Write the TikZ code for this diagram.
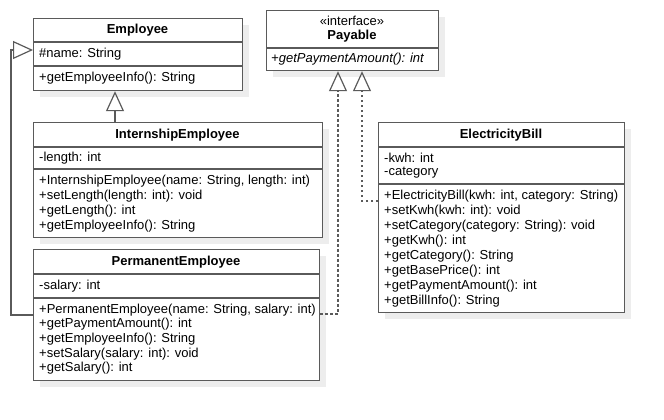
\documentclass[tikz,border=0pt]{standalone}
\usepackage{fontspec}
\setmainfont{Liberation Sans}
\usetikzlibrary{arrows.meta}
\definecolor{edge}{HTML}{5A5A5A}
\definecolor{shade}{HTML}{EDEDED}
\tikzset{
  cls/.style={draw=edge, line width=1.2pt, fill=white, anchor=north west, inner sep=0pt, rectangle},
  shadowbox/.style={fill=shade, draw=none},
  sep/.style={draw=edge, line width=1.2pt},
  txt/.style={anchor=west, inner sep=0pt, font=\fontsize{13}{15}\selectfont},
  ttl/.style={anchor=center, inner sep=0pt, font=\fontsize{13}{15}\selectfont\bfseries},
  gen/.style={draw=edge, line width=1.2pt, -{Triangle[open, length=20pt, width=18pt]}},
  real/.style={draw=edge, line width=1.2pt, dash pattern=on 2.5pt off 2.5pt, -{Triangle[open, length=20pt, width=18pt]}}
}
\begin{document}
\begin{tikzpicture}[x=1pt,y=-1pt]
\useasboundingbox (0,0) rectangle (664,420);
% shadows
\fill[shadowbox] (40,25) rectangle (249,97);
\fill[shadowbox] (40,129) rectangle (329,244);
\fill[shadowbox] (40,256) rectangle (326,387);
\fill[shadowbox] (273,17) rectangle (445,77);
\fill[shadowbox] (385,129) rectangle (631,319);
% Employee
\node[cls, minimum width=209pt, minimum height=72pt] (emp) at (33,18) {};
\draw[sep] (33,42) -- (242,42);
\draw[sep] (33,66) -- (242,66);
\node[ttl] (empT) at (137.5,30) {Employee};
\node[txt] (empA) at (39,54) {\#name: String};
\node[txt] (empM) at (39,78) {+getEmployeeInfo(): String};
% InternshipEmployee
\node[cls, minimum width=289pt, minimum height=115pt] (ie) at (33,122) {};
\draw[sep] (33,147) -- (322,147);
\draw[sep] (33,169) -- (322,169);
\node[ttl] (ieT) at (177.5,135) {InternshipEmployee};
\node[txt] (ieA) at (39,158) {-length: int};
\node[txt] (ieM1) at (39,181) {+InternshipEmployee(name: String, length: int)};
\node[txt] (ieM2) at (39,196) {+setLength(length: int): void};
\node[txt] (ieM3) at (39,211) {+getLength(): int};
\node[txt] (ieM4) at (39,226) {+getEmployeeInfo(): String};
% PermanentEmployee
\node[cls, minimum width=286pt, minimum height=131pt] (pe) at (33,249) {};
\draw[sep] (33,274) -- (319,274);
\draw[sep] (33,298) -- (319,298);
\node[ttl] (peT) at (176,262) {PermanentEmployee};
\node[txt] (peA) at (39,286) {-salary: int};
\node[txt] (peM1) at (39,310) {+PermanentEmployee(name: String, salary: int)};
\node[txt] (peM2) at (39,324.5) {+getPaymentAmount(): int};
\node[txt] (peM3) at (39,339) {+getEmployeeInfo(): String};
\node[txt] (peM4) at (39,354) {+setSalary(salary: int): void};
\node[txt] (peM5) at (39,368.5) {+getSalary(): int};
% Payable
\node[cls, minimum width=172pt, minimum height=60pt] (pay) at (266,10) {};
\draw[sep] (266,48) -- (438,48);
\node[anchor=center, inner sep=0pt, font=\fontsize{13}{15}\selectfont] (payS) at (352,21) {«interface»};
\node[ttl] (payT) at (352,36) {Payable};
\node[txt, font=\fontsize{13}{15}\selectfont\itshape] (payM) at (271,59) {+getPaymentAmount(): int};
% ElectricityBill
\node[cls, minimum width=246pt, minimum height=190pt] (eb) at (378,122) {};
\draw[sep] (378,147) -- (624,147);
\draw[sep] (378,184) -- (624,184);
\node[ttl] (ebT) at (501,135) {ElectricityBill};
\node[txt] (ebA1) at (384,157.5) {-kwh: int};
\node[txt] (ebA2) at (384,173) {-category};
\node[txt] (ebM1) at (384,196) {+ElectricityBill(kwh: int, category: String)};
\node[txt] (ebM2) at (384,211) {+setKwh(kwh: int): void};
\node[txt] (ebM3) at (384,226) {+setCategory(category: String): void};
\node[txt] (ebM4) at (384,241) {+getKwh(): int};
\node[txt] (ebM5) at (384,256) {+getCategory(): String};
\node[txt] (ebM6) at (384,271) {+getBasePrice(): int};
\node[txt] (ebM7) at (384,286) {+getPaymentAmount(): int};
\node[txt] (ebM8) at (384,301) {+getBillInfo(): String};
% connectors
\draw[gen] ([xshift=82pt]ie.north west) -- ([xshift=82pt]emp.south west);
\draw[gen] ([yshift=-66pt]pe.north west) -- ++(-22,0) |- ([yshift=-32pt]emp.north west);
\draw[real] ([yshift=-65pt]pe.north east) -| ([xshift=72pt]pay.south west);
\draw[real] ([yshift=-79pt]eb.north west) -| ([xshift=96pt]pay.south west);
\end{tikzpicture}
\end{document}
